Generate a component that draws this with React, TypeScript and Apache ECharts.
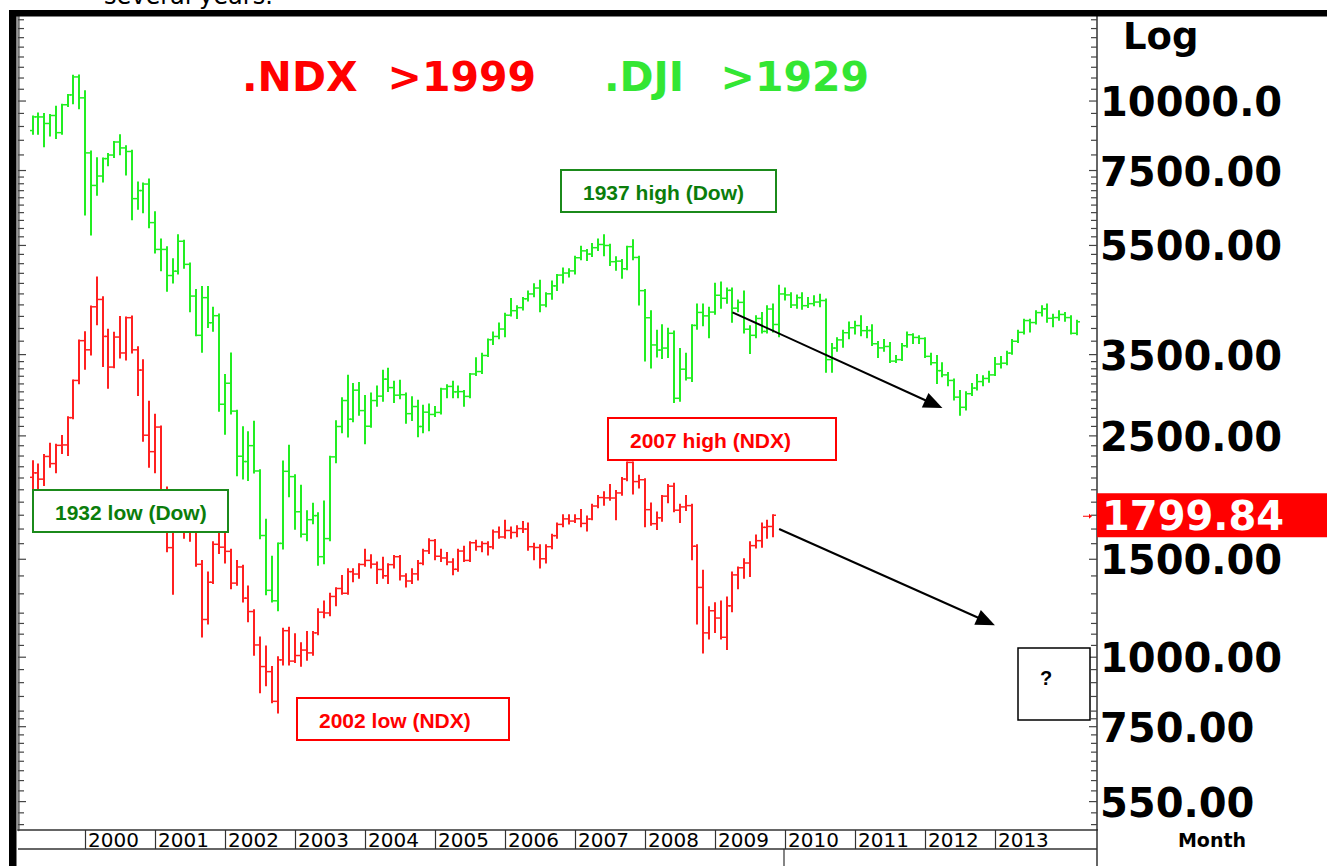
import React, { useEffect, useRef } from "react";
import * as echarts from "echarts";

// ---------- categories (months on the shared x-axis) ----------
const FIRST_YEAR = 1999;
const FIRST_MONTH = 2; // February 1999
const CATEGORY_COUNT = 185;
const months: string[] = [];
for (let i = 0; i < CATEGORY_COUNT; i++) {
  const m = FIRST_MONTH - 1 + i;
  const y = FIRST_YEAR + Math.floor(m / 12);
  months.push(`${y}-${String((m % 12) + 1).padStart(2, "0")}`);
}
const yearLabels = ["2000", "2001", "2002", "2003", "2004", "2005", "2006", "2007", "2008", "2009", "2010", "2011", "2012", "2013"];

// ---------- .NDX monthly bars [open, high, low, close], Apr 1999 .. Nov 2009 ----------
const NDX_FIRST_INDEX = 2;
const ndxBars: number[][] = [
  [2106, 2250, 2010, 2145], [2145, 2220, 1990, 2090], [2090, 2310, 2040, 2296], [2296, 2420, 2200, 2229],
  [2229, 2410, 2150, 2404], [2404, 2500, 2330, 2408], [2408, 2700, 2310, 2696], [2696, 3145, 2690, 3145],
  [3145, 3710, 3110, 3708],
  [3708, 3840, 3300, 3570], [3570, 4270, 3500, 4266], [4266, 4816, 3970, 4398], [4398, 4440, 3340, 3774],
  [3774, 3880, 3050, 3324], [3324, 3830, 3320, 3764], [3764, 4090, 3460, 3524], [3524, 4080, 3430, 4078],
  [4078, 4100, 3530, 3570], [3570, 3610, 2960, 3283], [3283, 3420, 2450, 2507], [2507, 2880, 2200, 2342],
  [2342, 2730, 2150, 2593], [2593, 2600, 1880, 1908], [1908, 2020, 1550, 1574], [1574, 1900, 1300, 1855],
  [1855, 1960, 1700, 1800], [1800, 1910, 1640, 1830], [1830, 1860, 1620, 1683], [1683, 1720, 1460, 1469],
  [1469, 1490, 1090, 1169], [1169, 1420, 1150, 1364], [1364, 1610, 1360, 1596], [1596, 1710, 1540, 1577],
  [1577, 1675, 1480, 1550], [1550, 1560, 1330, 1359], [1359, 1490, 1350, 1453], [1453, 1460, 1260, 1277],
  [1277, 1340, 1160, 1208], [1208, 1215, 1010, 1052], [1052, 1085, 865, 962], [962, 1045, 890, 942],
  [942, 960, 830, 833], [833, 1000, 795, 989], [989, 1125, 970, 1116], [1116, 1130, 970, 984],
  [984, 1100, 980, 1007], [1007, 1060, 965, 1030], [1030, 1110, 990, 1018], [1018, 1110, 1010, 1106],
  [1106, 1220, 1100, 1205], [1205, 1260, 1180, 1201], [1201, 1300, 1190, 1286], [1286, 1330, 1240, 1329],
  [1329, 1400, 1300, 1303], [1303, 1440, 1300, 1425], [1425, 1440, 1370, 1411], [1411, 1470, 1390, 1468],
  [1468, 1560, 1460, 1493], [1493, 1525, 1450, 1470], [1470, 1480, 1360, 1438], [1438, 1510, 1390, 1401],
  [1401, 1470, 1360, 1467], [1467, 1520, 1450, 1516], [1516, 1520, 1380, 1400], [1400, 1410, 1340, 1371],
  [1371, 1440, 1360, 1412], [1412, 1490, 1380, 1475], [1475, 1560, 1470, 1553], [1553, 1630, 1540, 1621],
  [1621, 1625, 1500, 1519], [1519, 1560, 1490, 1508], [1508, 1540, 1470, 1483], [1483, 1500, 1410, 1439],
  [1439, 1560, 1430, 1552], [1552, 1580, 1490, 1493], [1493, 1610, 1490, 1606], [1606, 1620, 1560, 1581],
  [1581, 1610, 1550, 1601], [1601, 1610, 1530, 1579], [1579, 1690, 1570, 1680], [1680, 1710, 1640, 1645],
  [1645, 1760, 1640, 1690], [1690, 1710, 1640, 1676], [1676, 1720, 1650, 1703], [1703, 1750, 1680, 1700],
  [1700, 1740, 1560, 1580], [1580, 1600, 1500, 1575], [1575, 1590, 1450, 1503], [1503, 1590, 1480, 1580],
  [1580, 1660, 1570, 1654], [1654, 1740, 1640, 1733], [1733, 1800, 1720, 1773], [1773, 1800, 1740, 1757],
  [1757, 1800, 1750, 1774], [1774, 1840, 1720, 1740], [1740, 1790, 1690, 1772], [1772, 1880, 1770, 1870],
  [1870, 1950, 1860, 1937], [1937, 1980, 1880, 1934], [1934, 2040, 1920, 1933], [1933, 1990, 1770, 1974],
  [1974, 2100, 1960, 2091], [2091, 2240, 2080, 2240], [2240, 2240, 1970, 2069], [2069, 2120, 2020, 2085],
  [2085, 2090, 1720, 1842], [1842, 1890, 1730, 1738], [1738, 1820, 1700, 1781], [1781, 1950, 1760, 1948],
  [1948, 2040, 1900, 2030], [2030, 2050, 1830, 1838], [1838, 1880, 1750, 1863], [1863, 1950, 1840, 1873],
  [1873, 1880, 1500, 1583], [1583, 1590, 1150, 1335], [1335, 1430, 1020, 1106], [1106, 1230, 1080, 1212],
  [1212, 1250, 1110, 1176], [1176, 1260, 1080, 1086], [1086, 1280, 1035, 1237], [1237, 1420, 1210, 1406],
  [1406, 1450, 1330, 1448], [1448, 1500, 1390, 1477], [1477, 1610, 1400, 1587], [1587, 1655, 1575, 1620],
  [1620, 1740, 1580, 1712], [1712, 1760, 1640, 1718], [1718, 1800, 1650, 1799.84],
];

// ---------- .DJI monthly bars as plotted [open, high, low, close], Jan 1929 .. Dec 1943 ----------
const DJI_FIRST_INDEX = 2;
const djiBars: number[][] = [
  [8850, 9381, 8732, 9366], [9366, 9499, 8732, 9363], [9363, 9475, 8290, 9113], [9113, 9440, 8673, 9419],
  [9419, 9765, 8585, 8773], [8773, 9847, 8732, 9847], [9847, 10257, 9800, 10257], [10257, 11100, 9912, 11050],
  [11050, 11120, 9706, 10133], [10133, 10411, 6254, 8068], [8068, 8113, 5753, 7051], [7051, 7894, 6785, 7331],
  [7331, 7879, 7169, 7879], [7879, 8033, 7664, 7997], [7997, 8440, 7936, 8440], [8440, 8676, 8024, 8236],
  [8236, 8290, 7375, 8115], [8115, 8142, 6127, 6676], [6676, 7139, 6402, 6903], [6903, 7110, 6313, 7092],
  [7092, 7230, 5930, 6045], [6045, 6313, 5340, 5410], [5410, 5635, 4965, 5410], [5410, 5458, 4558, 4856],
  [4856, 5192, 4720, 4944], [4944, 5735, 4897, 5596], [5596, 5605, 5015, 5086], [5086, 5104, 4189, 4460],
  [4460, 4573, 3791, 3791], [3791, 4629, 3540, 4431], [4431, 4632, 3924, 3994], [3994, 4248, 3865, 4112],
  [4112, 4133, 2773, 2850], [2850, 3216, 2522, 3109], [3109, 3516, 2744, 2770], [2770, 2773, 2124, 2298],
  [2298, 2590, 2095, 2248], [2248, 2537, 2083, 2401], [2401, 2652, 2148, 2162], [2162, 2168, 1637, 1655],
  [1655, 1767, 1298, 1319], [1319, 1516, 1260, 1263], [1263, 1602, 1215, 1602], [1602, 2248, 1569, 2159],
  [2159, 2401, 1947, 2112], [2112, 2124, 1702, 1826], [1826, 2033, 1649, 1664], [1664, 1829, 1623, 1767],
  [1767, 1888, 1741, 1797], [1797, 1814, 1466, 1516], [1516, 1906, 1475, 1634], [1634, 2292, 1623, 2292],
  [2292, 2655, 2242, 2599], [2599, 2921, 2537, 2894], [2894, 3207, 2493, 2679], [2679, 3098, 2655, 3021],
  [3021, 3112, 2729, 2776], [2776, 2950, 2425, 2602], [2602, 2980, 2596, 2894], [2894, 3068, 2832, 2947],
  [2947, 3275, 2891, 3162], [3162, 3301, 3009, 3053], [3053, 3127, 2876, 2959], [2959, 3142, 2921, 2965],
  [2965, 2980, 2640, 2741], [2741, 2935, 2670, 2823], [2823, 2891, 2496, 2599], [2599, 2832, 2537, 2758],
  [2758, 2847, 2558, 2732], [2732, 2817, 2714, 2755], [2755, 3039, 2744, 3036], [3036, 3083, 2935, 3068],
  [3068, 3127, 2935, 3000], [3000, 3068, 2935, 3003], [3003, 3009, 2832, 2944], [2944, 3230, 2935, 3230],
  [3230, 3446, 3216, 3263], [3263, 3511, 3245, 3487], [3487, 3726, 3481, 3723], [3723, 3835, 3658, 3773],
  [3773, 3983, 3747, 3891], [3891, 4145, 3776, 4121], [4121, 4407, 4115, 4198], [4198, 4278, 4071, 4251],
  [4251, 4425, 4219, 4410], [4410, 4543, 4381, 4499], [4499, 4685, 4455, 4611], [4611, 4750, 4189, 4298],
  [4298, 4514, 4278, 4502], [4502, 4735, 4410, 4652], [4652, 4868, 4573, 4865], [4865, 5000, 4720, 4906],
  [4906, 4986, 4838, 4950], [4950, 5251, 4897, 5227], [5227, 5472, 5192, 5378], [5378, 5399, 5177, 5307],
  [5307, 5531, 5266, 5449], [5449, 5635, 5399, 5522], [5522, 5735, 5281, 5499], [5499, 5517, 5074, 5142],
  [5142, 5236, 4971, 5154], [5154, 5177, 4809, 4994], [4994, 5472, 4986, 5472], [5472, 5617, 5192, 5233],
  [5233, 5251, 4307, 4561], [4561, 4573, 3416, 4077], [4077, 4189, 3319, 3643], [3643, 3865, 3472, 3567],
  [3567, 3953, 3452, 3596], [3596, 3894, 3466, 3823], [3823, 3850, 2876, 2921], [2921, 3584, 2891, 3295],
  [3295, 3511, 3157, 3177], [3177, 3953, 3139, 3950], [3950, 4307, 3894, 4168], [4168, 4307, 3953, 4109],
  [4109, 4248, 3761, 4174], [4174, 4691, 4145, 4475], [4475, 4720, 4248, 4419], [4419, 4602, 4337, 4567],
  [4567, 4602, 4012, 4242], [4242, 4381, 4189, 4345], [4345, 4543, 3835, 3888], [3888, 3938, 3525, 3791],
  [3791, 4101, 3761, 4065], [4065, 4160, 3835, 3853], [3853, 4278, 3835, 4227], [4227, 4307, 3850, 3965],
  [3965, 4655, 3776, 4499], [4499, 4602, 4396, 4481], [4481, 4514, 4263, 4298], [4298, 4469, 4248, 4431],
  [4431, 4514, 4233, 4286], [4286, 4425, 4263, 4322], [4322, 4455, 4292, 4351], [4351, 4484, 4278, 4378],
  [4378, 4396, 3260, 3428], [3428, 3658, 3260, 3596], [3596, 3747, 3555, 3720], [3720, 3865, 3614, 3832],
  [3832, 3997, 3747, 3912], [3912, 4012, 3820, 3947], [3947, 4101, 3791, 3865], [3865, 3924, 3761, 3867],
  [3867, 3953, 3643, 3661], [3661, 3688, 3466, 3599], [3599, 3717, 3555, 3620], [3620, 3673, 3393, 3407],
  [3407, 3481, 3393, 3428], [3428, 3658, 3422, 3631], [3631, 3835, 3614, 3800], [3800, 3806, 3673, 3758],
  [3758, 3776, 3673, 3741], [3741, 3747, 3466, 3475], [3475, 3511, 3363, 3384], [3384, 3481, 3112, 3275],
  [3275, 3378, 3201, 3218], [3218, 3245, 3083, 3145], [3145, 3157, 2906, 2935], [2935, 3009, 2729, 2814],
  [2814, 2994, 2788, 2977], [2977, 3098, 2960, 3047], [3047, 3216, 3030, 3130], [3130, 3201, 3083, 3171],
  [3171, 3260, 3127, 3218], [3218, 3452, 3216, 3366], [3366, 3466, 3319, 3378], [3378, 3540, 3363, 3522],
  [3522, 3717, 3511, 3699], [3699, 3865, 3688, 3838], [3838, 4042, 3820, 4030], [4030, 4042, 3850, 3997],
  [3997, 4189, 3983, 4165], [4165, 4278, 4115, 4230], [4230, 4307, 4012, 4068], [4068, 4130, 3938, 4080],
  [4080, 4189, 4042, 4133], [4133, 4160, 4027, 4080], [4080, 4101, 3820, 3823], [3823, 4027, 3806, 4009],
];

// ---------- price axis ----------
const Y_MIN = 489;
const Y_MAX = 14220;
const axisLabelValues = [10000, 7500, 5500, 3500, 2500, 1500, 1000, 750, 550];
const axisLabelTexts = ["10000.0", "7500.00", "5500.00", "3500.00", "2500.00", "1500.00", "1000.00", "750.00", "550.00"];
const lastPrice = 1799.84;
const lastPriceText = "1799.84";
const minorTickValues = [
  14000, 13500, 13000, 12500, 12000, 11500, 11000, 10500, 10000, 9500, 9000, 8500, 8000, 7500,
  7300, 7100, 6900, 6700, 6500, 6300, 6100, 5900, 5700, 5500, 5300, 5100, 4900, 4700, 4500, 4300, 4100, 3900, 3700, 3500,
  3400, 3300, 3200, 3100, 3000, 2900, 2800, 2700, 2600, 2500, 2400, 2300, 2200, 2100, 2000, 1900, 1800, 1700, 1600, 1500,
  1400, 1300, 1200, 1150, 1100, 1050, 1000, 950, 900, 850, 800, 775, 750, 725, 700, 675, 650, 625, 600, 575, 550, 525, 500,
];

// ---------- annotation arrows [fromMonthIndex, fromValue, toMonthIndex, toValue] ----------
const arrowLines = [
  [121.6, 4170, 158.4, 2805],
  [129.6, 1700, 166.7, 1142],
];

const GREEN_BAR = "#22ee22";
const RED_BAR = "#ff2020";

function barRenderer(color: string) {
  return (params: any, api: any) => {
    const i = api.value(0);
    const pO = api.coord([i, api.value(1)]);
    const pH = api.coord([i, api.value(2)]);
    const pL = api.coord([i, api.value(3)]);
    const pC = api.coord([i, api.value(4)]);
    const x = Math.round(pH[0]);
    return {
      type: "group",
      children: [
        { type: "line", shape: { x1: x, y1: pH[1] - 1, x2: x, y2: pL[1] + 1 }, style: { stroke: color, lineWidth: 2 } },
        { type: "line", shape: { x1: x - 3, y1: pO[1], x2: x, y2: pO[1] }, style: { stroke: color, lineWidth: 1.5 } },
        { type: "line", shape: { x1: x, y1: pC[1], x2: x + 3, y2: pC[1] }, style: { stroke: color, lineWidth: 1.5 } },
      ],
    };
  };
}

const isYearStart = (_index: number, value: string) =>
  value.endsWith("-01") && yearLabels.includes(value.slice(0, 4));

export default function App() {
  const ref = useRef<HTMLDivElement>(null);
  useEffect(() => {
    if (!ref.current) return;
    const chart = echarts.init(ref.current, undefined, { renderer: "svg" });

    const labelFont = { fontFamily: "DejaVu Sans", fontWeight: "bold" as const };
    const boxText = { fontFamily: "Liberation Sans, Arial", fontWeight: "bold" as const, fontSize: 21 };

    const annotationBox = (x: number, y: number, w: number, h: number, text: string, color: string, border: string) => [
      { type: "rect", shape: { x, y, width: w, height: h }, style: { fill: "#fff", stroke: border, lineWidth: 2 }, z: 50 },
      { type: "text", x: x + 22, y: y + h / 2 + 1, style: { text, fill: color, ...boxText, align: "left", verticalAlign: "middle" }, z: 51 },
    ];

    const option: any = {
      animation: false,
      backgroundColor: "#ffffff",
      grid: { left: 18, top: 16, width: 1079, height: 814, containLabel: false },
      xAxis: {
        type: "category",
        data: months,
        boundaryGap: true,
        axisLine: { show: true, lineStyle: { color: "#333", width: 1.5 } },
        axisTick: { show: true, interval: isYearStart, alignWithLabel: true, length: 19, lineStyle: { color: "#333", width: 1.2 } },
        axisLabel: {
          show: true,
          interval: isYearStart,
          formatter: (v: string) => v.slice(0, 4),
          align: "left",
          verticalAlign: "middle",
          margin: 10,
          padding: [0, 0, 0, 3],
          fontFamily: "DejaVu Sans",
          fontSize: 20,
          color: "#000",
        },
        splitLine: { show: false },
      },
      yAxis: [
        {
          type: "log", logBase: 10, min: Y_MIN, max: Y_MAX, position: "right",
          axisLine: { show: true, lineStyle: { color: "#333", width: 1.5 } },
          axisTick: { show: false }, axisLabel: { show: false }, splitLine: { show: false },
        },
        {
          type: "log", logBase: 10, min: Y_MIN, max: Y_MAX, position: "left",
          axisLine: { show: true, lineStyle: { color: "#777", width: 2.5 } },
          axisTick: { show: false }, axisLabel: { show: false }, splitLine: { show: false },
        },
      ],
      series: [
        {
          name: ".DJI >1929",
          type: "custom",
          renderItem: barRenderer(GREEN_BAR),
          data: djiBars.map((b, i) => [DJI_FIRST_INDEX + i, b[0], b[1], b[2], b[3]]),
          encode: { x: 0, y: [1, 2, 3, 4] },
          z: 5,
        },
        {
          name: ".NDX >1999",
          type: "custom",
          renderItem: barRenderer(RED_BAR),
          data: ndxBars.map((b, i) => [NDX_FIRST_INDEX + i, b[0], b[1], b[2], b[3]]),
          encode: { x: 0, y: [1, 2, 3, 4] },
          z: 6,
        },
        {
          name: "ticks",
          type: "custom",
          silent: true,
          renderItem: (params: any, api: any) => {
            const v = api.value(1);
            const y = api.coord([0, v])[1];
            const cs = params.coordSys;
            const len = api.value(2) ? 8 : 6;
            const st = { stroke: "#444", lineWidth: 1.2 };
            return {
              type: "group",
              children: [
                { type: "line", shape: { x1: cs.x, y1: y, x2: cs.x + len, y2: y }, style: st },
                { type: "line", shape: { x1: cs.x + cs.width - len, y1: y, x2: cs.x + cs.width, y2: y }, style: st },
              ],
            };
          },
          data: minorTickValues.map((v) => [0, v, axisLabelValues.includes(v) ? 1 : 0]),
          encode: { x: 0, y: 1 },
          z: 3,
        },
        {
          name: "price labels",
          type: "custom",
          silent: true,
          renderItem: (params: any, api: any) => {
            const y = api.coord([0, api.value(1)])[1];
            const cs = params.coordSys;
            return {
              type: "text",
              x: cs.x + cs.width + 3,
              y: y + 1,
              style: { text: axisLabelTexts[params.dataIndex], fill: "#000", fontSize: 40, ...labelFont, align: "left", verticalAlign: "middle" },
            };
          },
          data: axisLabelValues.map((v) => [0, v]),
          encode: { x: 0, y: 1 },
          z: 20,
        },
        {
          name: "last price",
          type: "custom",
          silent: true,
          renderItem: (params: any, api: any) => {
            const y = api.coord([0, api.value(1)])[1];
            const cs = params.coordSys;
            const right = cs.x + cs.width;
            return {
              type: "group",
              children: [
                { type: "rect", shape: { x: right, y: y - 22, width: api.getWidth() - right, height: 44 }, style: { fill: "#ff0000" } },
                { type: "text", x: right + 5, y: y + 1, style: { text: lastPriceText, fill: "#fff", fontSize: 40, ...labelFont, align: "left", verticalAlign: "middle" } },
                { type: "line", shape: { x1: right - 14, y1: y + 1, x2: right - 8, y2: y + 1 }, style: { stroke: "#ff0000", lineWidth: 1 } },
                { type: "polygon", shape: { points: [[right - 8, y - 1.5], [right - 5, y + 1], [right - 8, y + 3.5]] }, style: { fill: "#ff0000" } },
              ],
            };
          },
          data: [[0, lastPrice]],
          encode: { x: 0, y: 1 },
          z: 20,
        },
        {
          name: "arrows",
          type: "custom",
          silent: true,
          renderItem: (params: any, api: any) => {
            const p1 = api.coord([api.value(0), api.value(1)]);
            const p2 = api.coord([api.value(2), api.value(3)]);
            const dx = p2[0] - p1[0];
            const dy = p2[1] - p1[1];
            const len = Math.sqrt(dx * dx + dy * dy);
            const ux = dx / len, uy = dy / len;
            const head = 19, half = 8;
            const bx = p2[0] - ux * head, by = p2[1] - uy * head;
            return {
              type: "group",
              children: [
                { type: "line", shape: { x1: p1[0], y1: p1[1], x2: bx + ux * 2, y2: by + uy * 2 }, style: { stroke: "#000", lineWidth: 2 } },
                { type: "polygon", shape: { points: [[p2[0], p2[1]], [bx - uy * half, by + ux * half], [bx + uy * half, by - ux * half]] }, style: { fill: "#000" } },
              ],
            };
          },
          data: arrowLines,
          encode: { x: [0, 2], y: [1, 3] },
          z: 30,
        },
      ],
      graphic: [
        { type: "rect", shape: { x: 9, y: 10, width: 1318, height: 6.5 }, style: { fill: "#000" }, z: 100 },
        { type: "rect", shape: { x: 9, y: 10, width: 7.5, height: 856 }, style: { fill: "#000" }, z: 100 },
        { type: "text", x: 104, y: -4, style: { text: "several years.", fill: "#000", fontFamily: "DejaVu Sans", fontSize: 24, align: "left", verticalAlign: "middle" }, z: 100 },
        { type: "text", x: 242, y: 77, style: { text: ".NDX", fill: "#ff0000", fontSize: 41, ...labelFont, align: "left", verticalAlign: "middle" }, z: 40 },
        { type: "text", x: 536, y: 77, style: { text: ">1999", fill: "#ff0000", fontSize: 41, ...labelFont, align: "right", verticalAlign: "middle" }, z: 40 },
        { type: "text", x: 604, y: 77, style: { text: ".DJI", fill: "#33e633", fontSize: 41, ...labelFont, align: "left", verticalAlign: "middle" }, z: 40 },
        { type: "text", x: 869, y: 77, style: { text: ">1929", fill: "#33e633", fontSize: 41, ...labelFont, align: "right", verticalAlign: "middle" }, z: 40 },
        { type: "text", x: 1123, y: 36, style: { text: "Log", fill: "#000", fontSize: 37, ...labelFont, align: "left", verticalAlign: "middle" }, z: 40 },
        { type: "text", x: 1212, y: 840, style: { text: "Month", fill: "#000", fontSize: 19, ...labelFont, align: "center", verticalAlign: "middle" }, z: 40 },
        { type: "line", shape: { x1: 18, y1: 849, x2: 1097, y2: 849 }, style: { stroke: "#333", lineWidth: 1.5 }, z: 40 },
        { type: "line", shape: { x1: 1097, y1: 829, x2: 1097, y2: 866 }, style: { stroke: "#333", lineWidth: 1.5 }, z: 40 },
        { type: "line", shape: { x1: 784, y1: 849, x2: 784, y2: 866 }, style: { stroke: "#333", lineWidth: 1.2 }, z: 40 },
        ...annotationBox(561, 170, 215, 42, "1937 high (Dow)", "#0b7d0b", "#1b8a1b"),
        ...annotationBox(33, 490, 195, 42, "1932 low (Dow)", "#0b7d0b", "#1b8a1b"),
        ...annotationBox(608, 418, 228, 42, "2007 high (NDX)", "#ff0000", "#ff0000"),
        ...annotationBox(297, 698, 212, 42, "2002 low (NDX)", "#ff0000", "#ff0000"),
        { type: "rect", shape: { x: 1018, y: 648, width: 72, height: 72 }, style: { fill: "#fff", stroke: "#000", lineWidth: 1.5 }, z: 50 },
        { type: "text", x: 1046, y: 678, style: { text: "?", fill: "#000", ...boxText, fontSize: 20, align: "center", verticalAlign: "middle" }, z: 51 },
      ],
    };

    chart.setOption(option);
    return () => chart.dispose();
  }, []);

  return <div ref={ref} style={{ position: "absolute", left: 0, top: 0, width: 1327, height: 866 }} />;
}
